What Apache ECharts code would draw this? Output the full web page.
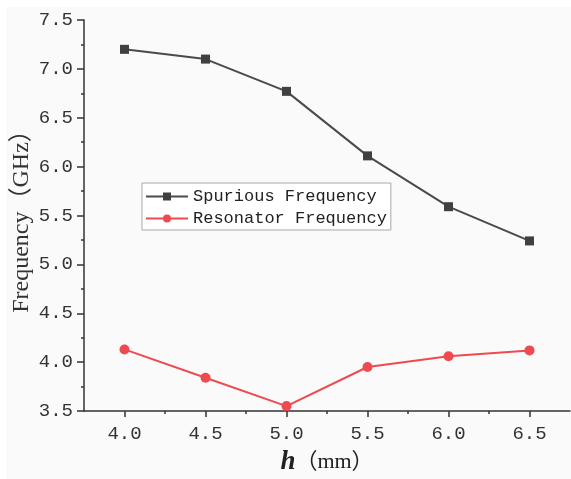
<!DOCTYPE html>
<html>
<head>
<meta charset="utf-8">
<script src="https://cdn.jsdelivr.net/npm/echarts@6/dist/echarts.min.js"></script>
<style>
  html, body { margin: 0; padding: 0; background: #fff; }
  #chart { width: 571px; height: 479px; }
</style>
</head>
<body>
<div id="chart"></div>
<script>
// h (mm)
var hValues = [4.0, 4.5, 5.0, 5.5, 6.0, 6.5];
var minorTicks = [4.25, 4.75, 5.25, 5.75, 6.25];
var spurious = [7.20, 7.10, 6.77, 6.11, 5.59, 5.24];
var resonator = [4.13, 3.84, 3.55, 3.95, 4.06, 4.12];
var seriesNames = ['Spurious Frequency', 'Resonator Frequency'];

var axisColor = '#333';
var monoFont = '"Liberation Mono", "DejaVu Sans Mono", monospace';
var serifFont = '"Liberation Serif", "Noto Sans CJK SC", serif';

function pairs(xs, ys){
  var out = [];
  for(var i = 0, len = xs.length; i < len; i++){
    out.push([xs[i], ys[i]]);
  }
  return out;
}

var chart = echarts.init(document.getElementById('chart'));

chart.setOption({
  backgroundColor: '#fff',
  animation: false,
  graphic: [{
    type: 'rect',
    z: -10,
    silent: true,
    shape: { x: 6, y: 7, width: 571, height: 479 },
    style: { fill: '#fafafa' }
  }],
  grid: { left: 84, right: 1, top: 20, bottom: 68, outerBoundsMode: 'none', containLabel: false },
  legend: {
    orient: 'vertical',
    left: 142,
    top: 183,
    itemWidth: 42,
    itemHeight: 10,
    itemGap: 5,
    padding: [5, 4, 3, 3],
    borderColor: '#a8a8a8',
    borderWidth: 1,
    backgroundColor: '#fff',
    textStyle: { fontFamily: monoFont, fontSize: 17, color: '#222' },
    data: seriesNames
  },
  xAxis: [{
    type: 'value',
    min: 3.75,
    max: 6.75,
    name: '{i|h}{n|（mm）}',
    nameLocation: 'middle',
    nameGap: 38,
    nameMoveOverlap: false,
    nameTextStyle: {
      rich: {
        i: { fontFamily: '"Liberation Serif", serif', fontStyle: 'italic', fontWeight: 'bold', fontSize: 27, color: '#222' },
        n: { fontFamily: serifFont, fontSize: 22, color: '#222' }
      }
    },
    axisLine: { show: true, onZero: false, lineStyle: { color: axisColor, width: 1.5 } },
    axisTick: { show: true, customValues: hValues, length: 6, lineStyle: { color: axisColor, width: 1.5 } },
    axisLabel: {
      customValues: hValues,
      margin: 13,
      fontFamily: monoFont,
      fontSize: 19,
      color: '#333',
      formatter: function(v){ return v.toFixed(1); }
    },
    splitLine: { show: false }
  }, {
    type: 'value',
    min: 3.75,
    max: 6.75,
    position: 'bottom',
    axisLine: { show: false },
    axisTick: { show: true, customValues: minorTicks, length: 3, lineStyle: { color: axisColor, width: 1.5 } },
    axisLabel: { show: false },
    splitLine: { show: false }
  }],
  yAxis: {
    type: 'value',
    min: 3.5,
    max: 7.5,
    interval: 0.5,
    name: 'Frequency（GHz）',
    nameLocation: 'middle',
    nameGap: 50,
    nameMoveOverlap: false,
    nameTextStyle: { fontFamily: serifFont, fontSize: 24, color: '#333' },
    axisLine: { show: true, lineStyle: { color: axisColor, width: 1.5 } },
    axisTick: { show: true, length: 7, lineStyle: { color: axisColor, width: 1.5 } },
    minorTick: { show: true, splitNumber: 2, length: 3, lineStyle: { color: axisColor, width: 1.5 } },
    axisLabel: {
      margin: 11,
      fontFamily: monoFont,
      fontSize: 19,
      color: '#333',
      formatter: function(v){ return v.toFixed(1); }
    },
    splitLine: { show: false }
  },
  series: [{
    name: seriesNames[0],
    type: 'line',
    data: pairs(hValues, spurious),
    symbol: 'rect',
    symbolSize: 9,
    lineStyle: { color: '#4a4a4a', width: 2 },
    itemStyle: { color: '#404040' }
  }, {
    name: seriesNames[1],
    type: 'line',
    data: pairs(hValues, resonator),
    symbol: 'circle',
    symbolSize: 10,
    lineStyle: { color: '#ee4a50', width: 2 },
    itemStyle: { color: '#ee4a50' }
  }]
});
</script>
</body>
</html>
